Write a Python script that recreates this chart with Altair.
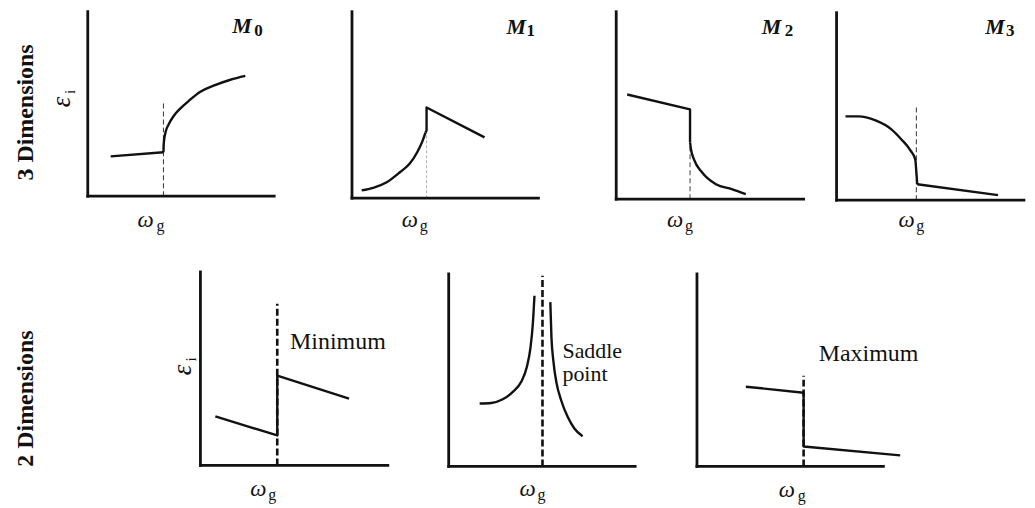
import altair as alt
import pandas as pd

# ---------------- data (panel-local units: each axis is about 10 units long) ----------------
# 3 dimensions, M0
m0_flat_x = [1.23, 4.06]
m0_flat_y = [2.06, 2.27]
m0_rise_x = [4.06, 4.08, 4.17, 4.35, 4.62, 4.97, 5.42, 6.04, 6.75, 7.65, 8.45]
m0_rise_y = [2.27, 2.78, 3.30, 3.73, 4.16, 4.54, 4.93, 5.40, 5.71, 6.02, 6.22]
# M1
m1_rise_x = [0.52, 1.14, 1.86, 2.57, 3.10, 3.49, 3.78, 3.94]
m1_rise_y = [0.40, 0.53, 0.82, 1.34, 1.79, 2.36, 2.95, 3.39]
m1_step_x = [3.94, 4.00, 4.00, 7.11]
m1_step_y = [3.39, 3.50, 4.69, 3.14]
# M2
m2_step_x = [0.59, 3.96, 3.96]
m2_step_y = [5.41, 4.64, 2.94]
m2_fall_x = [3.96, 4.01, 4.17, 4.60, 5.35, 6.20, 6.95]
m2_fall_y = [2.94, 2.58, 2.06, 1.39, 0.77, 0.52, 0.26]
# M3
m3_fall_x = [0.48, 1.18, 2.09, 2.94, 3.48, 3.96, 4.22, 4.28, 4.33]
m3_fall_y = [4.33, 4.33, 4.12, 3.66, 3.14, 2.58, 2.11, 1.44, 0.82]
m3_tail_x = [4.33, 8.66]
m3_tail_y = [0.82, 0.26]
# 2 dimensions, minimum
min_x = [0.80, 4.12, 4.12, 7.97]
min_y = [2.53, 1.55, 4.64, 3.45]
# saddle point
sad_left_x = [1.66, 2.28, 2.90, 3.44, 3.89, 4.19, 4.39, 4.51, 4.60]
sad_left_y = [3.25, 3.28, 3.47, 3.85, 4.37, 5.14, 6.17, 7.34, 8.82]
sad_right_x = [5.45, 5.51, 5.61, 5.79, 6.03, 6.38, 6.74, 7.18]
sad_right_y = [8.49, 6.69, 5.48, 4.28, 3.42, 2.56, 1.96, 1.56]
# maximum
max_x = [2.62, 5.72, 5.72, 10.90]
max_y = [4.12, 3.81, 1.03, 0.57]

# panels, critical-point guide lines and axis extents
panels = ["M0", "M1", "M2", "M3", "Min", "Sad", "Max"]
guide_x = [4.06, 4.00, 3.96, 4.28, 4.12, 5.03, 5.72]
guide_top = [4.80, 3.40, 2.94, 4.80, 8.35, 9.85, 4.69]
axis_xlen = [10.0, 10.0, 10.05, 10.05, 10.05, 10.0, 10.0]
axis_ytop = [9.54, 9.64, 9.69, 9.69, 10.0, 9.95, 9.95]

# text labels: panel, text, x, y, role
lab_panel = ["M0", "M0", "M0", "M0", "M0", "M0",
             "M1", "M1", "M1", "M1",
             "M2", "M2", "M2", "M2",
             "M3", "M3", "M3", "M3",
             "Min", "Min", "Min", "Min", "Min",
             "Sad", "Sad", "Sad", "Sad",
             "Max", "Max", "Max"]
lab_text = ["\u03c9", "g", "M", "0", "\u03b5", "i",
            "\u03c9", "g", "M", "1",
            "\u03c9", "g", "M", "2",
            "\u03c9", "g", "M", "3",
            "\u03c9", "g", "\u03b5", "i", "Minimum",
            "\u03c9", "g", "Saddle", "point",
            "\u03c9", "g", "Maximum"]
lab_x = [2.67, 3.69, 7.75, 8.93, -0.96, -0.66,
         2.67, 3.64, 8.29, 9.36,
         2.73, 3.69, 7.81, 9.04,
         3.32, 4.28, 7.97, 9.09,
         2.67, 3.64, -0.53, -0.23, 4.81,
         3.80, 4.76, 6.10, 6.10,
         4.39, 5.40, 9.20]
lab_y = [-1.60, -1.80, 8.45, 8.30, 4.60, 5.30,
         -1.49, -1.70, 8.51, 8.40,
         -1.44, -1.65, 8.56, 8.45,
         -1.39, -1.60, 8.61, 8.51,
         -1.60, -1.80, 4.66, 5.38, 6.03,
         -1.55, -1.75, 5.62, 4.40,
         -1.60, -1.80, 5.46]
lab_role = ["omega", "sub", "M", "digit", "eps", "epsub",
            "omega", "sub", "M", "digit",
            "omega", "sub", "M", "digit",
            "omega", "sub", "M", "digit",
            "omega", "sub", "eps", "epsub", "word",
            "omega", "sub", "words", "words",
            "omega", "sub", "wordc"]

row_titles = ["3 Dimensions", "2 Dimensions"]

# ---------------- tables ----------------
rows = []


def add(panel, seg, kind, xs, ys):
    for i, (x, y) in enumerate(zip(xs, ys)):
        rows.append(dict(panel=panel, seg=seg, kind=kind, i=i, x=x, y=y))


add("M0", "a", "line", m0_flat_x, m0_flat_y)
add("M0", "b", "curve", m0_rise_x, m0_rise_y)
add("M1", "a", "curve", m1_rise_x, m1_rise_y)
add("M1", "b", "line", m1_step_x, m1_step_y)
add("M2", "a", "line", m2_step_x, m2_step_y)
add("M2", "b", "curve", m2_fall_x, m2_fall_y)
add("M3", "a", "curve", m3_fall_x, m3_fall_y)
add("M3", "b", "line", m3_tail_x, m3_tail_y)
add("Min", "a", "line", min_x, min_y)
add("Sad", "a", "curve", sad_left_x, sad_left_y)
add("Sad", "b", "curve", sad_right_x, sad_right_y)
add("Max", "a", "line", max_x, max_y)
curves = pd.DataFrame(rows)

guides = pd.DataFrame({"panel": panels, "x": guide_x, "y0": 0.0, "top": guide_top})
axes = pd.DataFrame({"panel": panels, "o": 0.0, "xlen": axis_xlen, "ytop": axis_ytop})
labels = pd.DataFrame({"panel": lab_panel, "text": lab_text, "x": lab_x, "y": lab_y,
                       "role": lab_role})

# ---------------- layout (reference pixels) ----------------
SX, SY = 18.7, 19.4
ROWS = {0: (8, 234), 1: (234, 500)}
LAYOUT = {  # col left, col right, origin x, origin y, row
    "M0": (47, 300, 87, 194, 0),
    "M1": (300, 570, 352, 196, 0),
    "M2": (570, 825, 617, 197, 0),
    "M3": (825, 1027, 838, 198, 0),
    "Min": (47, 420, 200, 462, 1),
    "Sad": (420, 665, 449, 463, 1),
    "Max": (665, 1027, 698, 463, 1),
}
SERIF = "Liberation Serif"
INK = "#111111"

ROLE_STYLE = {
    "omega": dict(fontSize=23, fontStyle="italic"),
    "sub": dict(fontSize=16),
    "M": dict(fontSize=22, fontStyle="italic", fontWeight="bold"),
    "digit": dict(fontSize=17, fontWeight="bold"),
    "eps": dict(fontSize=27, fontStyle="italic", angle=270),
    "epsub": dict(fontSize=14, angle=270),
    "word": dict(fontSize=24),
    "words": dict(fontSize=22),
    "wordc": dict(fontSize=24, align="center"),
}
TOP_DASH = {"M0": ("#444444", 1.1, [5, 3]), "M1": ("#b0b0b0", 1, [3, 2]),
            "M2": ("#555555", 1.1, [5, 3]), "M3": ("#444444", 1.1, [5, 3])}


def panel_chart(p):
    cl, cr, ox, oy, row = LAYOUT[p]
    rt, rb = ROWS[row]
    xs = alt.Scale(domain=[(cl - ox) / SX, (cr - ox) / SX], nice=False, zero=False)
    ys = alt.Scale(domain=[(oy - rb) / SY, (oy - rt) / SY], nice=False, zero=False)

    def X(f):
        return alt.X(f, type="quantitative", scale=xs, axis=None)

    def Y(f):
        return alt.Y(f, type="quantitative", scale=ys, axis=None)

    ax = axes[axes.panel == p]
    gd = guides[guides.panel == p]
    cv = curves[curves.panel == p]
    lb = labels[labels.panel == p]

    layers = []
    # dashed critical-point line
    if row == 0:
        col, w, dash = TOP_DASH[p]
    else:
        col, w, dash = (INK, 2.6, [7, 3])
    layers.append(alt.Chart(gd).mark_rule(color=col, strokeWidth=w, strokeDash=dash)
                  .encode(x=X("x"), y=Y("y0"), y2="top:Q"))
    # axes
    layers.append(alt.Chart(ax).mark_rule(color=INK, strokeWidth=2.8, strokeCap="square")
                  .encode(x=X("o"), x2="xlen:Q", y=Y("o")))
    layers.append(alt.Chart(ax).mark_rule(color=INK, strokeWidth=2.8, strokeCap="square")
                  .encode(x=X("o"), y=Y("o"), y2="ytop:Q"))
    # curves
    for kind, interp in (("curve", "monotone"), ("line", "linear")):
        d = cv[cv.kind == kind]
        if len(d):
            layers.append(alt.Chart(d).mark_line(color=INK, strokeWidth=2.4,
                                                 interpolate=interp, strokeJoin="round")
                          .encode(x=X("x"), y=Y("y"), detail="seg:N", order="i:Q"))
    # labels
    for role, st in ROLE_STYLE.items():
        d = lb[lb.role == role]
        if len(d):
            props = dict(font=SERIF, color=INK, align="left", baseline="alphabetic")
            props.update(st)
            layers.append(alt.Chart(d).mark_text(**props)
                          .encode(x=X("x"), y=Y("y"), text="text:N"))
    return alt.layer(*layers).properties(width=cr - cl, height=rb - rt)


def row_label(row, yref):
    rt, rb = ROWS[row]
    return (alt.Chart(pd.DataFrame({"t": [row_titles[row]]}))
            .mark_text(angle=270, align="center", baseline="alphabetic", font=SERIF,
                       fontSize=24, fontWeight="bold", color=INK)
            .encode(text="t:N", x=alt.value(32 - 8), y=alt.value(yref - rt))
            .properties(width=39, height=rb - rt))


top = alt.hconcat(row_label(0, 110), *[panel_chart(p) for p in ["M0", "M1", "M2", "M3"]],
                  spacing=0, bounds="flush")
bottom = alt.hconcat(row_label(1, 395), *[panel_chart(p) for p in ["Min", "Sad", "Max"]],
                     spacing=0, bounds="flush")
chart = (alt.vconcat(top, bottom, spacing=0)
         .properties(padding=0, background="white")
         .configure_view(stroke="transparent"))

chart.save("out.html", embed_options={"renderer": "svg", "actions": False})
